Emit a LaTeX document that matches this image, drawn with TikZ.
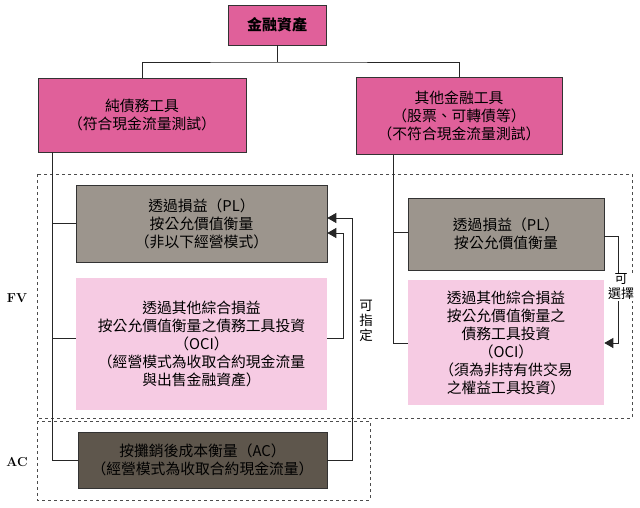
\documentclass[tikz,border=0pt]{standalone}
\usepackage{fontspec}
\newfontfamily\cjk{Noto Sans CJK TC}
\usetikzlibrary{arrows.meta}
\definecolor{hot}{HTML}{E0609A}
\definecolor{lpink}{HTML}{F6CBE3}
\definecolor{gr}{HTML}{9C958D}
\definecolor{dk}{HTML}{5E564C}
\begin{document}
\begin{tikzpicture}[x=1pt,y=-1pt,
  bx/.style={draw=black!80,line width=0.6pt,align=center,font=\cjk\fontsize{14.8}{18}\selectfont,inner sep=0pt},
  ln/.style={line width=0.8pt,black!85},
  ar/.style={ln,-{Triangle[length=9pt,width=10pt]}},
  dsh/.style={draw=black!70,dashed,line width=0.5pt}]
\useasboundingbox (0,0) rectangle (640,508);
\fill[white] (0,0) rectangle (640,508);
\draw[dsh] (37,174) rectangle (632,418);
\draw[dsh] (37,421) rectangle (370,500);
\node[bx,fill=hot,minimum width=98pt,minimum height=40pt,font=\cjk\bfseries\fontsize{15}{17}\selectfont] (top) at (277,25) {金融資產};
\node[bx,fill=hot,minimum width=208pt,minimum height=74pt] (debt) at (142,115) {純債務工具\\（符合現金流量測試）};
\node[bx,fill=hot,minimum width=206pt,minimum height=77pt] (oth) at (459,116) {其他金融工具\\（股票、可轉債等）\\（不符合現金流量測試）};
\node[bx,fill=gr,minimum width=251pt,minimum height=77pt] (pl) at (201.5,223.5) {透過損益（PL）\\按公允價值衡量\\（非以下經營模式）};
\node[bx,draw=none,fill=lpink,minimum width=251pt,minimum height=132pt] (oci) at (201.5,344) {透過其他綜合損益\\按公允價值衡量之債務工具投資\\（OCI）\\（經營模式為收取合約現金流量\\與出售金融資產）};
\node[bx,fill=dk,minimum width=249pt,minimum height=56pt] (ac) at (202.5,460) {按攤銷後成本衡量（AC）\\（經營模式為收取合約現金流量）};
\node[bx,fill=gr,minimum width=196pt,minimum height=72pt] (pl2) at (506,234) {透過損益（PL）\\按公允價值衡量};
\node[bx,draw=none,fill=lpink,minimum width=196pt,minimum height=125pt] (oci2) at (506,342.5) {透過其他綜合損益\\按公允價值衡量之\\債務工具投資\\（OCI）\\（須為非持有供交易\\之權益工具投資）};
\node[font=\bfseries\fontsize{13}{14}\selectfont] (fv) at (17,298) {FV};
\node[font=\bfseries\fontsize{13}{14}\selectfont] (acl) at (17,462) {AC};
% tree
\coordinate (j) at (277,62);
\draw[ln] (top.south) -- (j);
\draw[ln] (debt.north) |- (j) -| (oth.north);
\coordinate (t1) at (52,152);
\coordinate (t2) at (393,155);
\draw[ln] (t1) |- (ac.west);
\draw[ln] (52,223) -- (pl.west |- 0,223);
\draw[ln] (52,338) -- (oci.west |- 0,338);
\draw[ln] (t2) |- (oci2.west |- 0,343);
\draw[ln] (393,232) -- (pl2.west |- 0,232);
\draw[ar] (oci.east |- 0,338) -- (343,338) -- (343,233) -- (pl.east |- 0,233);
\draw[ar] (ac.east) -- (352,460) -- (352,218) -- (pl.east |- 0,218);
\node[font=\cjk\fontsize{13.5}{15}\selectfont,align=center] (ksz) at (366,321) {可\\指\\定};
\draw[ar] (pl2.east |- 0,236) -- (618,236) -- (618,343) -- (oci2.east |- 0,343);
\node[fill=white,font=\cjk\fontsize{13}{15}\selectfont,align=center,inner sep=1pt] (kxz) at (621,287) {可\\選擇};
\end{tikzpicture}
\end{document}
